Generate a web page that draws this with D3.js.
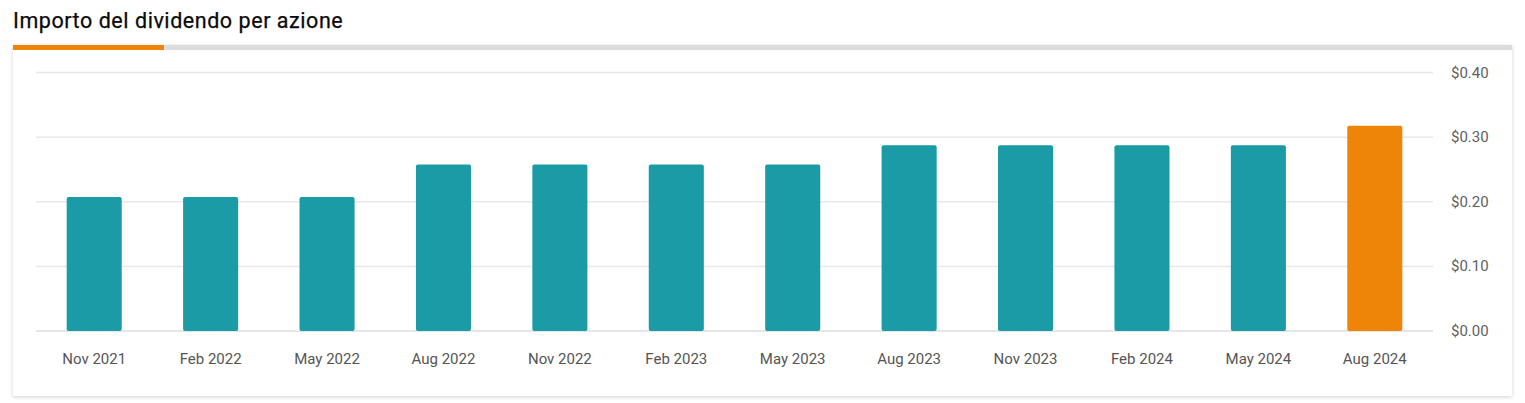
<!DOCTYPE html>
<html><head><meta charset="utf-8">
<script src="https://cdn.jsdelivr.net/npm/d3@7"></script>
<style>
body{margin:0;background:#fff;font-family:Roboto,"Noto Sans",sans-serif;}
svg{position:absolute;left:0;top:0;}
#card{position:absolute;left:13px;top:45px;width:1499px;height:351px;background:#fff;box-shadow:0 1px 4px rgba(0,0,0,0.18);}
#bar-gray{position:absolute;left:13px;top:45px;width:1499px;height:5px;background:#dcdcdc;}
#bar-or{position:absolute;left:13px;top:45px;width:151px;height:5px;background:#ee8508;}
</style></head><body>
<div id="card"></div><div id="bar-gray"></div><div id="bar-or"></div>
<svg id="chart" width="1525" height="403"></svg>
<script>
const categories=["Nov 2021","Feb 2022","May 2022","Aug 2022","Nov 2022","Feb 2023","May 2023","Aug 2023","Nov 2023","Feb 2024","May 2024","Aug 2024"];
const values=[0.2075,0.2075,0.2075,0.2575,0.2575,0.2575,0.2575,0.2875,0.2875,0.2875,0.2875,0.3175];
const yTicks=[0,0.1,0.2,0.3,0.4];
const svg=d3.select("#chart");
svg.append("text").attr("x",13).attr("y",27.5).attr("font-size",21.5).attr("letter-spacing","0.55px").attr("fill","#0a0a0a")
 .attr("stroke","#0a0a0a").attr("stroke-width",0.25)
 .text("Importo del dividendo per azione");
const x=d3.scaleBand().domain(categories).range([36,1433]).paddingInner(0.527).paddingOuter(0.2635);
const y=d3.scaleLinear().domain([0,0.4]).range([331,72.5]);
svg.append("g").selectAll("line").data(yTicks).join("line")
 .attr("x1",36).attr("x2",1433).attr("y1",d=>y(d)).attr("y2",d=>y(d))
 .attr("stroke",d=>d===0?"#dedede":"#e8e8e8").attr("stroke-width",1.5);
svg.append("g").selectAll("text").data(yTicks).join("text")
 .attr("x",1451).attr("y",d=>y(d)+5).attr("font-size",15).attr("fill","#5f5f5f")
 .text(d=>"$"+d.toFixed(2));
svg.append("g").selectAll("rect").data(values).join("rect")
 .attr("x",(d,i)=>x(categories[i])).attr("width",x.bandwidth())
 .attr("y",d=>y(d)).attr("height",d=>y(0)-y(d)).attr("rx",2)
 .attr("fill",(d,i)=>i===values.length-1?"#ee8508":"#1a9ba6");
svg.append("g").selectAll("text").data(categories).join("text")
 .attr("x",d=>x(d)+x.bandwidth()/2).attr("y",364).attr("text-anchor","middle")
 .attr("font-size",15).attr("fill","#555").text(d=>d);
</script></body></html>
